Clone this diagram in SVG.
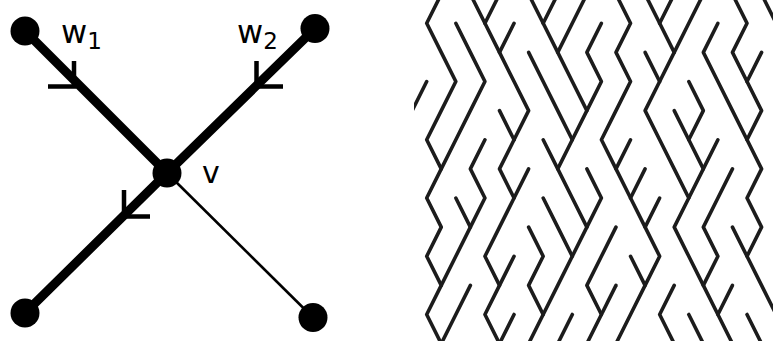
<svg xmlns="http://www.w3.org/2000/svg" width="773" height="341" viewBox="0 0 773 341">
<defs>
<style>
.node{fill:#000}
.thick{stroke:#000;stroke-width:9;fill:none;stroke-linecap:round}
.thin{stroke:#000;stroke-width:2.6;fill:none}
.chev{stroke:#000;stroke-width:4.5;fill:none;stroke-linejoin:miter;stroke-linecap:butt}
.lbl{font-family:"DejaVu Sans","Liberation Sans",sans-serif;fill:#000}
.maze polyline{fill:none;stroke:#1c1c1c;stroke-width:3.6;stroke-linejoin:round;stroke-linecap:round;vector-effect:non-scaling-stroke}
</style>
<clipPath id="mazeclip"><rect x="414" y="0" width="359" height="341"/></clipPath>
</defs>
<rect width="773" height="341" fill="#fff"/>
<g id="connectors">
<line class="thick" x1="25" y1="31" x2="167" y2="173"/>
<line class="thick" x1="315" y1="28.5" x2="167" y2="173"/>
<line class="thick" x1="167" y1="173" x2="25" y2="313"/>
<line class="thin" x1="167" y1="173" x2="313" y2="317.5"/>
<polyline class="chev" points="74,61 74,86.5 48,86.5"/>
<polyline class="chev" points="256.5,61 256.5,86.5 283,86.5"/>
<polyline class="chev" points="124,190 124,216.5 150,216.5"/>
</g>
<g id="node-w1"><circle class="node" cx="25" cy="31" r="14.5"/><text class="lbl" x="61" y="43" font-size="32">w<tspan font-size="23" dy="6">1</tspan></text></g>
<g id="node-w2"><circle class="node" cx="315" cy="28.5" r="14.5"/><text class="lbl" x="237" y="43" font-size="32">w<tspan font-size="23" dy="6">2</tspan></text></g>
<g id="node-v"><circle class="node" cx="167" cy="173" r="14.5"/><text class="lbl" x="202" y="183" font-size="30">v</text></g>
<g id="node-bl"><circle class="node" cx="25" cy="313" r="14.5"/></g>
<g id="node-br"><circle class="node" cx="313" cy="317.5" r="14.5"/></g>
<g id="maze" clip-path="url(#mazeclip)">
<g class="maze" transform="translate(426.7,23.3) scale(14.56,29.12)">
<polyline points="1,-1 0,0 1,1 2,2 1,3 0,4 1,5 0,6 1,7 0,8 1,9 0,10 1,11"/>
<polyline points="3,-1 4,0 5,1 6,2 7,3 6,4 5,5 6,6 5,7 4,8 5,9 4,10 5,11"/>
<polyline points="5,-1 4,0"/>
<polyline points="7,-1 8,0 9,1 10,2 11,3 10,4 9,5 10,6 11,7 10,8 9,9 8,10 7,11"/>
<polyline points="9,-1 8,0"/>
<polyline points="11,-1 10,0 9,1"/>
<polyline points="13,-1 14,0 13,1 14,2 13,3 12,4 13,5 14,6 15,7 16,8 15,9 14,10 13,11"/>
<polyline points="15,-1 16,0 17,1 16,2 15,3 16,4 17,5 18,6 17,7 18,8 19,9 20,10 21,11"/>
<polyline points="17,-1 16,0"/>
<polyline points="19,-1 18,0 17,1"/>
<polyline points="21,-1 22,0 21,1 22,2 23,3 22,4 23,5 22,6 23,7 22,8 23,9 24,10"/>
<polyline points="23,-1 24,0"/>
<polyline points="2,0 3,1 4,2 3,3 2,4 1,5"/>
<polyline points="6,0 5,1"/>
<polyline points="12,0 11,1 12,2 11,3"/>
<polyline points="20,0 19,1 20,2 21,3 22,4"/>
<polyline points="7,1 8,2 9,3 10,4"/>
<polyline points="15,1 16,2"/>
<polyline points="23,1 22,2"/>
<polyline points="0,2 -1,3"/>
<polyline points="18,2 19,3 18,4 19,5 18,6"/>
<polyline points="5,3 6,4"/>
<polyline points="17,3 18,4"/>
<polyline points="4,4 3,5 4,6 3,7 2,8 1,9"/>
<polyline points="8,4 9,5"/>
<polyline points="14,4 13,5"/>
<polyline points="20,4 19,5"/>
<polyline points="7,5 6,6"/>
<polyline points="11,5 12,6 11,7"/>
<polyline points="15,5 14,6"/>
<polyline points="21,5 20,6 19,7 20,8 19,9"/>
<polyline points="2,6 3,7"/>
<polyline points="8,6 9,7 10,8"/>
<polyline points="16,6 15,7"/>
<polyline points="7,7 8,8 7,9 8,10"/>
<polyline points="13,7 12,8 11,9 12,10 11,11"/>
<polyline points="21,7 22,8"/>
<polyline points="6,8 5,9"/>
<polyline points="14,8 15,9"/>
<polyline points="3,9 2,10 1,11"/>
<polyline points="13,9 12,10"/>
<polyline points="17,9 16,10 17,11"/>
<polyline points="21,9 20,10"/>
<polyline points="6,10 5,11"/>
<polyline points="10,10 9,11"/>
<polyline points="18,10 19,11"/>
<polyline points="22,10 23,11"/>
</g>
</g>
</svg>
